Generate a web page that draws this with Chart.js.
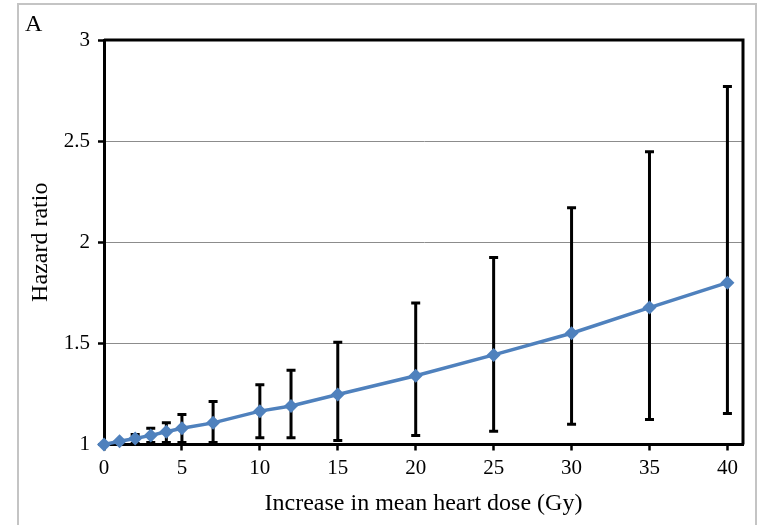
<!DOCTYPE html>
<html>
<head>
<meta charset="utf-8">
<script src="https://cdn.jsdelivr.net/npm/chart.js@4/dist/chart.umd.min.js"></script>
<style>
  html, body { margin: 0; padding: 0; background: #fff; }
  #wrap { position: relative; width: 763px; height: 525px; }
  #frame { position: absolute; left: 17px; top: 3px; width: 740px; height: 530px;
           border-left: 2px solid #c4c4c4; border-top: 2px solid #c4c4c4; border-right: 2px solid #c4c4c4; box-sizing: border-box; }
  #panel { position: absolute; left: 25px; top: 10px; font: 24px "Liberation Serif", serif; color: #000; }
  canvas { position: absolute; left: 0; top: 0; }
</style>
</head>
<body>
<div id="wrap">
  <canvas id="c" width="763" height="525"></canvas>
  <div id="frame"></div>
  <div id="panel">A</div>
</div>
<script>
// Mean heart dose increase (Gy) and the estimated hazard ratio with its confidence interval
const dose        = [0, 1, 2, 3, 4, 5, 7, 10, 12, 15, 20, 25, 30, 35, 40];
const hazardRatio = [1, 1.016, 1.03, 1.045, 1.063, 1.08, 1.107, 1.165, 1.19, 1.247, 1.34, 1.443, 1.55, 1.677, 1.80];
const ciLower     = [1, 1.016, 1.005, 1.01, 1.01, 1.01, 1.01, 1.033, 1.033, 1.02, 1.045, 1.065, 1.10, 1.123, 1.153];
const ciUpper     = [1, 1.016, 1.05, 1.08, 1.107, 1.148, 1.212, 1.296, 1.367, 1.505, 1.70, 1.925, 2.17, 2.447, 2.77];

const xTicks = [0, 5, 10, 15, 20, 25, 30, 35, 40];
const yTicks = [1, 1.5, 2, 2.5, 3];
const yTickLabels = ['1', '1.5', '2', '2.5', '3'];

const points = dose.map((d, i) => ({ x: d, y: hazardRatio[i] }));

// Vertical confidence-interval whiskers with caps, drawn beneath the line
const errorBars = {
  id: 'errorBars',
  beforeDatasetsDraw(chart) {
    const { ctx, scales: { x, y } } = chart;
    ctx.save();
    ctx.strokeStyle = '#000';
    ctx.lineWidth = 3;
    const cap = 4.5;
    dose.forEach((d, i) => {
      if (ciUpper[i] <= ciLower[i]) return;
      const px = x.getPixelForValue(d);
      const top = y.getPixelForValue(ciUpper[i]);
      const bot = y.getPixelForValue(ciLower[i]);
      ctx.beginPath();
      ctx.moveTo(px, top); ctx.lineTo(px, bot);
      ctx.moveTo(px - cap, top); ctx.lineTo(px + cap, top);
      ctx.moveTo(px - cap, bot); ctx.lineTo(px + cap, bot);
      ctx.stroke();
    });
    ctx.restore();
  }
};

// Closes the plot box on its top and right sides
const plotBox = {
  id: 'plotBox',
  beforeDatasetsDraw(chart) {
    const { ctx, chartArea: a } = chart;
    ctx.save();
    ctx.strokeStyle = '#000';
    ctx.lineWidth = 3;
    ctx.beginPath();
    ctx.moveTo(a.left, a.top);
    ctx.lineTo(a.right, a.top);
    ctx.lineTo(a.right, a.bottom);
    ctx.stroke();
    ctx.restore();
  }
};

Chart.defaults.font.family = '"Liberation Serif", "Times New Roman", serif';
Chart.defaults.color = '#000';

new Chart(document.getElementById('c'), {
  type: 'scatter',
  data: {
    datasets: [{
      data: points,
      showLine: true,
      clip: false,
      borderColor: '#4F81BD',
      borderWidth: 3.5,
      backgroundColor: '#4F81BD',
      pointStyle: 'rectRot',
      pointRadius: 7,
      pointHoverRadius: 7,
      pointBorderWidth: 0,
      tension: 0
    }]
  },
  options: {
    responsive: false,
    devicePixelRatio: 1,
    animation: false,
    events: [],
    layout: { padding: { top: 40, right: 20, left: 0, bottom: 0 } },
    plugins: { legend: { display: false }, tooltip: { enabled: false } },
    scales: {
      x: {
        type: 'linear',
        min: 0,
        max: 41,
        afterBuildTicks(scale) { scale.ticks = xTicks.map(v => ({ value: v })); },
        afterFit(scale) { scale.height = 80.5; },
        ticks: { font: { size: 21 }, padding: 5, maxRotation: 0 },
        grid: { drawOnChartArea: false, drawTicks: true, tickLength: 6, tickColor: '#000', tickWidth: 2.5 },
        border: { color: '#000', width: 3 },
        title: { display: true, text: 'Increase in mean heart dose (Gy)', font: { size: 24 }, padding: { top: 0, bottom: 7 } }
      },
      y: {
        type: 'linear',
        min: 1,
        max: 3,
        afterBuildTicks(scale) { scale.ticks = yTicks.map(v => ({ value: v })); },
        afterFit(scale) { scale.width = 104; },
        ticks: {
          font: { size: 21 },
          padding: 8,
          callback(value) { const i = yTicks.indexOf(value); return i >= 0 ? yTickLabels[i] : ''; }
        },
        grid: { color: '#8c8c8c', lineWidth: 1, drawTicks: true, tickLength: 6, tickColor: '#000', tickWidth: 2.5 },
        border: { color: '#000', width: 3 },
        title: { display: true, text: 'Hazard ratio', font: { size: 24 }, padding: { top: 26, bottom: 0 } }
      }
    }
  },
  plugins: [errorBars, plotBox]
});
</script>
</body>
</html>
